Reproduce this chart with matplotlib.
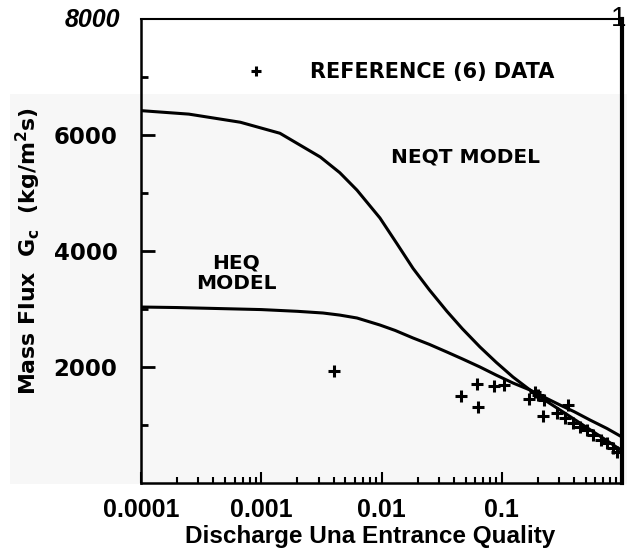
import matplotlib
matplotlib.use("Agg")
from matplotlib import pyplot as plt
from matplotlib.patches import Rectangle

# NEQT model curve (discharge quality, mass flux kg/m^2 s)
neqt_x = [1e-4, 2.5e-4, 6.7e-4, 1.43e-3, 3.1e-3, 4.5e-3, 6.25e-3, 9.7e-3,
          0.0135, 0.0183, 0.025, 0.035, 0.047, 0.0659, 0.09, 0.124, 0.172,
          0.22, 0.305, 0.4, 0.542, 0.75, 1.0]
neqt_y = [6420, 6360, 6220, 6030, 5620, 5350, 5050, 4570,
          4120, 3700, 3330, 2960, 2660, 2345, 2080, 1827, 1603,
          1450, 1259, 1100, 920, 730, 555]

# HEQ model curve
heq_x = [1e-4, 2e-4, 4e-4, 1e-3, 2e-3, 3.26e-3, 4.5e-3, 6.25e-3, 9.7e-3,
         0.013, 0.0183, 0.025, 0.035, 0.047, 0.0659, 0.09, 0.124, 0.172,
         0.22, 0.305, 0.4, 0.542, 0.75, 1.0]
heq_y = [3034, 3025, 3010, 2990, 2960, 2931, 2895, 2845, 2724,
         2630, 2500, 2390, 2258, 2140, 2000, 1860, 1724, 1603,
         1490, 1345, 1230, 1086, 940, 793]

# Reference (6) data points
ref_x = [0.00403, 0.0458, 0.0622, 0.0634, 0.0862, 0.1044, 0.1686, 0.189, 0.200,
         0.2245, 0.220, 0.3556, 0.288, 0.3357, 0.391, 0.448, 0.513, 0.576,
         0.663, 0.746, 0.838, 0.914]
ref_y = [1931, 1500, 1707, 1310, 1672, 1690, 1448, 1569, 1517,
         1431, 1155, 1345, 1207, 1121, 1034, 965, 914, 828,
         741, 690, 603, 534]

x_ticks = [1e-4, 1e-3, 1e-2, 1e-1, 1]
x_labels = ["0.0001", "0.001", "0.01", "0.1", ""]
y_ticks = [2000, 4000, 6000]
y_minor = [1000, 3000, 5000, 7000]

plt.rcParams["mathtext.default"] = "bf"

W, H = 627, 558
fig = plt.figure(figsize=(W / 100, H / 100), dpi=100)
fig.patch.set_facecolor("white")

# light grey scan band behind the plot
fig.patches.append(Rectangle((10 / W, (H - 484) / H), 1 - 10 / W, (484 - 94) / H,
                             transform=fig.transFigure, facecolor="#f7f7f7",
                             edgecolor="none", zorder=-10))

ax = fig.add_axes([141 / W, (H - 483) / H, (622 - 141) / W, (483 - 19) / H])
ax.set_facecolor("none")

ax.plot(neqt_x, neqt_y, color="black", linewidth=2.2)
ax.plot(heq_x, heq_y, color="black", linewidth=2.2)
ax.plot(ref_x, ref_y, linestyle="none", marker="+", markersize=9,
        markeredgewidth=2.2, color="black", label="REFERENCE (6) DATA")

ax.set_xscale("log")
ax.set_xlim(1e-4, 1)
ax.set_ylim(0, 8000)

ax.set_xticks(x_ticks, labels=x_labels)
ax.set_yticks(y_ticks, labels=[str(v) for v in y_ticks])
ax.set_yticks(y_minor, minor=True)

for lab in ax.get_xticklabels():
    lab.set_fontfamily("Liberation Sans")
    lab.set_fontweight("bold")
    lab.set_fontsize(18)
for lab in ax.get_yticklabels():
    lab.set_fontfamily("DejaVu Sans")
    lab.set_fontweight("bold")
    lab.set_fontsize(16.5)

ax.tick_params(axis="x", which="major", direction="in", length=8, width=1.5, pad=11)
ax.tick_params(axis="x", which="minor", direction="in", length=4, width=1.5)
ax.tick_params(axis="y", which="major", direction="in", length=10, width=2, pad=17)
ax.tick_params(axis="y", which="minor", direction="in", length=5, width=2)

for side, lw in [("left", 1.8), ("bottom", 1.8), ("top", 1.5), ("right", 3)]:
    ax.spines[side].set_linewidth(lw)

ax.set_xlabel("Discharge Una Entrance Quality", fontfamily="Liberation Sans",
              fontweight="bold", fontsize=17.5, va="center")
ax.xaxis.set_label_coords(0.476, -0.116)
ax.set_ylabel("Mass Flux  G$_c$  (kg/m$^2$s)", fontfamily="DejaVu Sans",
              fontweight="bold", fontsize=15.8, va="center")
ax.yaxis.set_label_coords(-0.235, 0.5)

ax.text(6.2e-4, 3620, "HEQ\nMODEL", ha="center", va="center", fontsize=14.5,
        fontweight="bold", linespacing=1.1)
ax.text(0.05, 5620, "NEQT MODEL", ha="center", va="center", fontsize=14.5,
        fontweight="bold")

ax.legend(loc="center", bbox_to_anchor=(0.537, 0.886), frameon=False,
          handlelength=1.2, handletextpad=2.0, markerscale=0.8,
          prop={"family": "DejaVu Sans", "weight": "bold", "size": 15})

fig.text(120 / W, (H - 20) / H, "8000", ha="right", va="center",
         fontfamily="Liberation Sans", fontweight="bold", style="italic", fontsize=18)
fig.text(611 / W, (H - 19) / H, "1", ha="left", va="center",
         fontfamily="Liberation Sans", fontsize=20)

fig.savefig("out.png", dpi=100)
